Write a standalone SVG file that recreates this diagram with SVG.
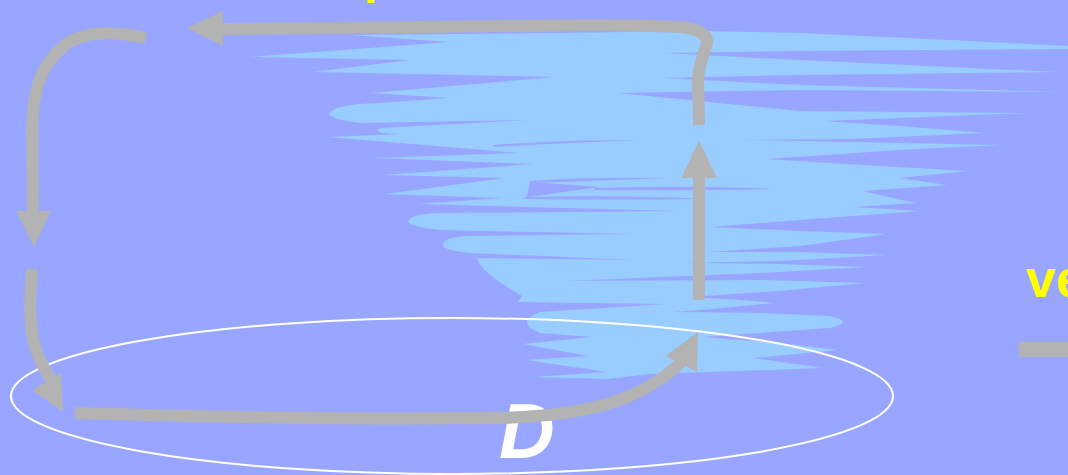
<svg xmlns="http://www.w3.org/2000/svg" width="1068" height="475" viewBox="0 0 1068 475">
  <style>
    .bg { fill: #99a6ff; }
    .cloud { fill: #99ccff; }
    .gap { fill: #99a6ff; }
    .flow { fill: none; stroke: #b3b3b3; stroke-width: 12; stroke-linecap: butt; stroke-linejoin: round; }
    .head { fill: #b3b3b3; }
    .rim { fill: none; stroke: #ffffff; stroke-width: 2; }
    .label { font-family: "Liberation Sans", Arial, sans-serif; font-weight: bold; }
  </style>

  <rect class="bg" x="0" y="0" width="1068" height="475"/>

  <!-- rising column of warm moist air, drawn as wind-torn streaks -->
  <g id="column">
    <path class="cloud" d="M 350 35 L 560 33 L 700 31 L 800 33 L 950 40 L 1068 46
      L 1068 49 L 800 51 L 665 53
      L 800 60 L 1058 72 L 800 75 L 663 78
      L 800 85 L 1060 92 L 800 90 L 618 93
      L 800 111 L 1027 113 L 900 118 L 823 121
      L 900 126 L 985 133 L 850 139 L 744 140
      L 850 142 L 1000 145 L 900 150 L 766 159
      L 880 166 L 967 171 L 900 178 L 947 185 L 862 191
      L 916 203 L 853 207 L 920 211 L 800 220 L 711 227
      L 800 231 L 887 234 L 800 246 L 708 252
      L 800 252 L 887 255 L 780 261 L 684 263
      L 780 264 L 867 267 L 760 273 L 567 281
      L 760 280 L 865 283 L 780 291 L 690 297
      L 740 300 L 775 303 L 700 310 L 673 312
      L 760 313 L 830 316 Q 856 322 830 328 L 760 333 L 703 337
      L 780 343 L 838 350 L 753 358 L 823 368
      L 737 371 L 650 374 L 607 379 L 532 377
      L 607 372 L 527 360 L 588 356 L 523 344 L 592 337
      L 540 333 Q 514 322 540 312 L 665 304
      L 518 302 L 522 296 Q 480 272 477 258 L 635 260
      L 470 253 Q 440 250 443 244 Q 445 237 470 236 L 633 234
      L 440 230 Q 405 226 409 220 Q 412 214 440 213 L 679 211
      L 417 204 L 503 198 L 385 194 L 505 178 L 383 175
      L 533 164 L 375 158 L 520 153
      L 400 143 L 327 137 L 400 134 Q 370 133 380 128 L 528 120
      L 360 123 Q 325 118 330 113 Q 335 104 380 103 L 449 98
      L 371 93 L 555 77 L 313 72 L 410 60 L 250 57 L 449 42 Z"/>
    <!-- thin clear gaps inside the column -->
    <path class="gap" d="M 494 145 Q 560 140 639 140 Q 560 143 494 147 Z"/>
    <path class="gap" d="M 530 181 Q 590 177 668 178 Q 590 181 530 183 Z"/>
    <path class="gap" d="M 595 188 Q 690 185 773 189 Q 690 191 595 190 Z"/>
    <path class="gap" d="M 525 197 Q 620 195 708 199 Q 620 200 525 199 Z"/>
    <path class="gap" d="M 530 182 L 600 187 L 527 197 Z"/>
  </g>

  <!-- warm disk at the base -->
  <g id="disk">
    <ellipse class="rim" cx="452" cy="396" rx="441" ry="78"/>
    <text class="label" x="499" y="458" font-size="77" font-style="italic" fill="#ffffff">D</text>
  </g>

  <g id="labels">
    <text class="label" x="364" y="-7" font-size="48" fill="#ffff00">p</text>
    <text class="label" x="1026" y="297" font-size="54" fill="#ffff00">ve</text>
  </g>

  <g id="connectors">
    <!-- inflow along the surface into the updraft -->
    <path class="flow" d="M 75 413 Q 300 420 500 418 Q 585 416 632 395 Q 664 380 681 362"/>
    <polygon class="head" points="698,332 666,356 697,372"/>
    <!-- updraft -->
    <line class="flow" x1="699" y1="300" x2="699" y2="176"/>
    <polygon class="head" points="699,141 681,178 717,178"/>
    <!-- outflow aloft -->
    <path class="flow" d="M 699 125 L 698 78 Q 700 62 706 47 Q 712 30 680 27 Q 620 24 520 26 L 220 29"/>
    <polygon class="head" points="187,28 223,11 223,46"/>
    <!-- descent on the far side -->
    <path class="flow" d="M 146 38 C 115 31 85 30 65 45 C 40 65 33 90 32 130 L 33 213"/>
    <polygon class="head" points="16,211 51,211 34,247"/>
    <path class="flow" d="M 32 269 C 30 300 28 330 37 352 Q 43 368 52 381"/>
    <polygon class="head" points="32,390 61,373 63,412"/>
    <!-- stub at right edge -->
    <rect class="head" x="1019" y="342" width="49" height="15"/>
  </g>
</svg>
